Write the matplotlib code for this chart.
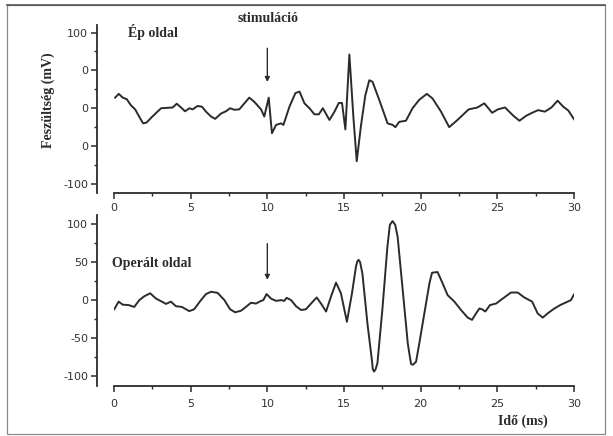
import matplotlib
matplotlib.use("Agg")
import matplotlib.pyplot as plt
from matplotlib.patches import Rectangle
from matplotlib.ticker import MultipleLocator

# ---- data ----
top_t = [0.07, 0.31, 0.57, 0.83, 1.1, 1.38, 1.64, 1.9, 2.12, 2.5, 3.07, 3.83, 4.09, 4.37,
         4.63, 4.92, 5.13, 5.45, 5.74, 6.0, 6.33, 6.6, 6.98, 7.3, 7.57, 7.85, 8.17, 8.82,
         9.15, 9.59, 9.8, 10.09, 10.3, 10.57, 10.9, 11.05, 11.44, 11.83, 12.1, 12.42,
         12.75, 13.07, 13.36, 13.62, 14.05, 14.38, 14.66, 14.87, 15.09, 15.35, 15.61,
         15.83, 16.1, 16.39, 16.65, 16.86, 17.3, 17.84, 18.17, 18.35, 18.6, 19.04, 19.47,
         19.9, 20.4, 20.77, 21.33, 21.86, 22.4, 23.13, 23.7, 24.15, 24.66, 25.03, 25.5,
         26.05, 26.44, 26.88, 27.27, 27.66, 28.1, 28.53, 28.93, 29.3, 29.63, 30.0]
top_v = [14, 19, 14, 12, 4, -1.5, -11, -20, -19, -11, 0, 1, 6, 1,
         -4, 0, -1.5, 3, 2, -4.5, -11, -14, -7, -4, 0, -2, -1.5, 14,
         8.5, -1.5, -11, 14, -33, -22, -20, -22, 2, 20, 22, 6.5,
         0, -8, -8, 0, -15.5, -4.5, 7, 7, -28, 71, -11,
         -70, -24, 17, 37, 35, 11, -20, -22, -25, -18, -16.5, 0,
         11, 19, 13, -4.5, -25, -15.5, -1.5, 1, 6.5, -6, -1.5, 1,
         -10, -16.5, -10, -6, -2.5, -4.5, 1, 10, 2, -3, -14.5]

bot_t = [0.02, 0.3, 0.57, 0.95, 1.32, 1.65, 1.97, 2.36, 2.74, 3.12, 3.39, 3.71, 4.04, 4.43,
         4.91, 5.23, 5.67, 6.0, 6.33, 6.76, 7.2, 7.57, 7.9, 8.28, 8.6, 8.93, 9.26, 9.59,
         9.74, 9.95, 10.24, 10.57, 10.9, 11.1, 11.26, 11.55, 11.87, 12.2, 12.52, 12.85,
         13.22, 13.5, 13.83, 14.15, 14.48, 14.8, 15.19, 15.52, 15.78, 15.87, 15.95, 16.05,
         16.2, 16.53, 16.82, 16.88, 16.96, 17.06, 17.18, 17.5, 17.83, 17.99, 18.17, 18.34,
         18.5, 18.83, 19.16, 19.37, 19.5, 19.7, 19.91, 20.24, 20.57, 20.74, 21.1, 21.39,
         21.76, 22.2, 22.63, 23.07, 23.35, 23.61, 23.83, 24.0, 24.22, 24.52, 24.92, 25.35,
         25.89, 26.33, 26.76, 27.27, 27.63, 27.96, 28.28, 28.72, 29.15, 29.59, 29.8, 30.0]
bot_v = [-12, -2, -6, -6.5, -9, 0, 5, 9, 2, -2, -5, -2, -8, -9,
         -14.5, -12, 0, 8, 11, 9.5, 0, -12, -16, -14, -9, -3.5, -4.5, -1,
         0, 8, 2, -1, 0, -1, 3, 0, -8, -13, -12, -4.5,
         3.5, -4.5, -15, 4.5, 23, 9, -28.5, 9, 44, 51, 53, 50,
         35, -31, -79, -91, -94, -91, -83, -13, 70, 99, 104, 99,
         83, 13, -57, -84, -85, -81, -57, -17.5, 22, 36, 37, 24,
         6.5, -2, -13, -23, -26, -17.5, -11, -12, -15, -6.5, -4.5, 2,
         10, 10, 3.5, -2, -17.5, -23, -17.5, -11, -6, -2, 0, 7.5]

x_ticks = [0, 5, 10, 15, 20, 25, 30]
x_ticklabels = ["0", "5", "10", "15", "20", "25", "30"]
y_ticks = [100, 50, 0, -50, -100]
top_yticklabels = ["100", "0", "0", "0", "-100"]
bot_yticklabels = ["100", "50", "0", "-50", "-100"]
stim_t = 10

W, H = 613, 436
def fx(px): return px / W
def fy(py): return 1 - py / H

fig = plt.figure(figsize=(W / 100, H / 100), dpi=100)
ink = "#2b2b2b"
serif = "Liberation Serif"

def style(ax, ylabels, xpad):
    for s in ("top", "right"):
        ax.spines[s].set_visible(False)
    ax.spines["left"].set_position(("outward", 12.2))
    for s in ("left", "bottom"):
        ax.spines[s].set_linewidth(1.3)
        ax.spines[s].set_color(ink)
    ax.set_xlim(0, 30)
    ax.set_xticks(x_ticks)
    ax.set_xticklabels(x_ticklabels)
    ax.xaxis.set_minor_locator(MultipleLocator(2.5))
    ax.set_yticks(y_ticks)
    ax.set_yticklabels(ylabels)
    ax.yaxis.set_minor_locator(MultipleLocator(25))
    ax.tick_params(which="major", length=4.5, width=1.1, color=ink, labelsize=8,
                   labelcolor="#333333")
    ax.tick_params(which="minor", length=2.5, width=1.0, color=ink)
    ax.tick_params(axis="x", which="major", pad=xpad)
    ax.tick_params(axis="y", which="major", pad=2)
    ax.set_facecolor("none")

# top panel
ax1 = fig.add_axes([fx(114), fy(193), fx(574) - fx(114), fy(25) - fy(193)])
ax1.plot(top_t, top_v, color=ink, lw=1.4, solid_joinstyle="round")
ax1.set_ylim(-112, 110)
style(ax1, top_yticklabels, 3)
ax1.annotate("", xy=(stim_t, 31), xytext=(stim_t, 83),
             arrowprops=dict(arrowstyle="-|>", color=ink, lw=1.0, mutation_scale=7))

# bottom panel
ax2 = fig.add_axes([fx(114), fy(386), fx(574) - fx(114), fy(215) - fy(386)])
ax2.plot(bot_t, bot_v, color=ink, lw=1.4, solid_joinstyle="round")
ax2.set_ylim(-113, 112)
style(ax2, bot_yticklabels, 5)
ax2.annotate("", xy=(stim_t, 23), xytext=(stim_t, 78),
             arrowprops=dict(arrowstyle="-|>", color=ink, lw=1.0, mutation_scale=7))

# texts
fig.text(fx(268), fy(18), "stimuláció", family=serif, weight="bold", fontsize=10,
         ha="center", va="center", color=ink)
fig.text(fx(128), fy(32), "Ép oldal", family=serif, weight="bold", fontsize=10,
         ha="left", va="center", color=ink)
fig.text(fx(112), fy(263), "Operált oldal", family=serif, weight="bold", fontsize=10,
         ha="left", va="center", color=ink)
fig.text(fx(523), fy(421), "Idő (ms)", family=serif, weight="bold", fontsize=10,
         ha="center", va="center", color=ink)
fig.text(fx(48), fy(100), "Feszültség (mV)", family=serif, weight="bold", fontsize=10,
         ha="center", va="center", rotation=90, color=ink)

# frame around the figure
fig.patches.append(Rectangle((fx(7), fy(434)), fx(605) - fx(7), fy(5) - fy(434),
                             transform=fig.transFigure, fill=False,
                             edgecolor="#8a8a8a", lw=0.9))
fig.add_artist(plt.Line2D([fx(7), fx(605)], [fy(5), fy(5)], transform=fig.transFigure,
                          color="#555555", lw=1.2))

fig.savefig("out.png", dpi=100)
